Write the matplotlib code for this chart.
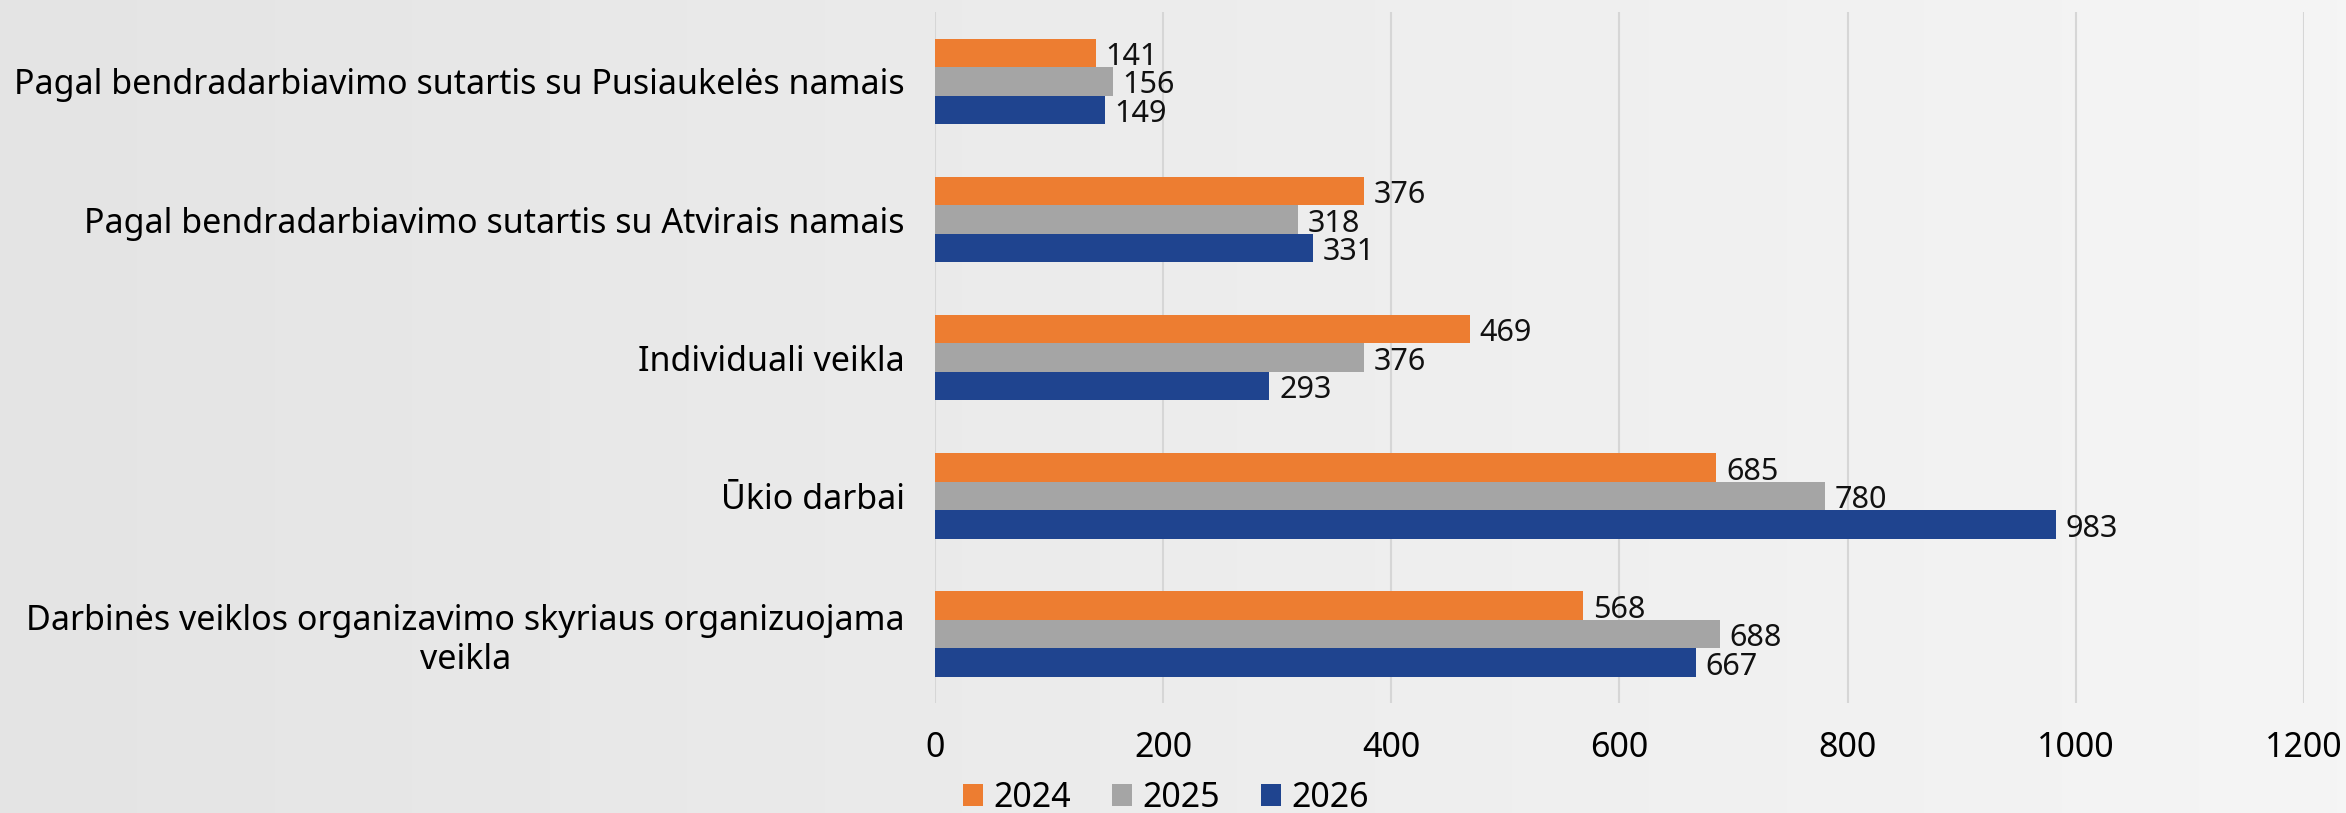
import numpy as np
import matplotlib
matplotlib.use('Agg')
from matplotlib import pyplot as plt

# Categories listed bottom-to-top, as they appear on the chart
categories = ['Darbinės veiklos organizavimo skyriaus organizuojama\nveikla',
              'Ūkio darbai',
              'Individuali veikla',
              'Pagal bendradarbiavimo sutartis su Atvirais namais',
              'Pagal bendradarbiavimo sutartis su Pusiaukelės namais']
years = ['2024', '2025', '2026']
values_2024 = [568, 685, 469, 376, 141]
values_2025 = [688, 780, 376, 318, 156]
values_2026 = [667, 983, 293, 331, 149]
x_ticks = [0, 200, 400, 600, 800, 1000, 1200]

colors = ['#ED7D31', '#A5A5A5', '#1F448F']
plt.rcParams['font.family'] = ['Noto Sans', 'DejaVu Sans']
fs = 24.5

fig = plt.figure(figsize=(23.46, 8.13), dpi=100)

# light gray gradient background
bg = fig.add_axes([0, 0, 1, 1], zorder=-10)
grad = np.linspace(0, 1, 256).reshape(1, -1)
bg.imshow(grad, aspect='auto', cmap=matplotlib.colors.LinearSegmentedColormap.from_list(
    'bg', ['#e4e4e4', '#f5f5f5']), extent=[0, 1, 0, 1])
bg.axis('off')

ax = fig.add_axes([0.3986, 0.135, 0.5834, 0.85])
ax.patch.set_alpha(0)

y = np.arange(len(categories))
h = 0.206
series = [values_2024, values_2025, values_2026]
for i, (vals, yr, c) in enumerate(zip(series, years, colors)):
    pos = y + h - i * h
    ax.barh(pos, vals, height=h, color=c, label=yr, zorder=3)
    # data labels just right of each bar
    for p, v in zip(pos, vals):
        ax.annotate(str(v), (v, p), xytext=(7, -3), textcoords='offset points',
                    va='center', ha='left', fontsize=22, color='#111111')

ax.set_xlim(0, 1200)
ax.set_ylim(-0.5, len(categories) - 0.5)
ax.set_xticks(x_ticks)
ax.set_yticks(y)
ax.set_yticklabels(categories, fontsize=fs, multialignment='center')
ax.tick_params(axis='x', labelsize=fs, length=0, pad=20)
ax.tick_params(axis='y', length=0, pad=22)
ax.grid(axis='x', color='#d6d6d6', lw=1.5, zorder=0)
for s in ax.spines.values():
    s.set_visible(False)

fig.legend(loc='lower center', bbox_to_anchor=(0.497, -0.04), ncol=3, frameon=False,
           fontsize=fs, handlelength=0.6, handleheight=0.6, handletextpad=0.3,
           columnspacing=1.2)

fig.savefig('out.png', dpi=100)
